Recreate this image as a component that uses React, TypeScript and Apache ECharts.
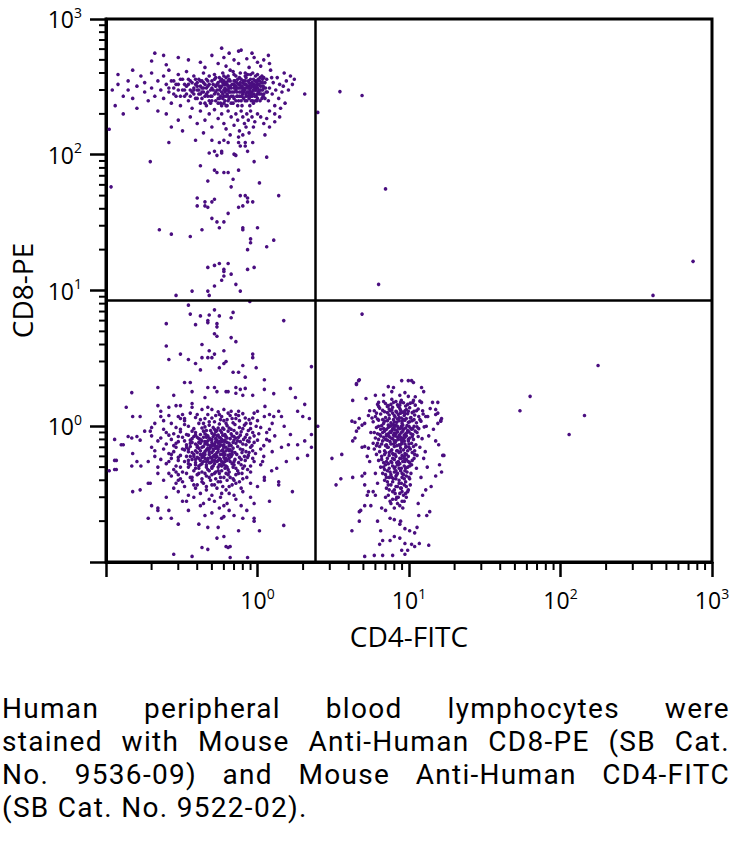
import React, { useEffect, useRef } from "react";
import * as echarts from "echarts";

// ---- axes ----
const X_MIN = 0.1;
const X_MAX = 1000;
const Y_MIN = 0.1;
const Y_MAX = 1000;
const X_NAME = "CD4-FITC";
const Y_NAME = "CD8-PE";
const QUAD_X = 2.4;
const QUAD_Y = 8.5;
const minorTickValues = [
  0.2, 0.3, 0.4, 0.5, 0.6, 0.7, 0.8, 0.9,
  2, 3, 4, 5, 6, 7, 8, 9,
  20, 30, 40, 50, 60, 70, 80, 90,
  200, 300, 400, 500, 600, 700, 800, 900,
];

const captionLines = [
  "Human peripheral blood lymphocytes were",
  "stained with Mouse Anti-Human CD8-PE (SB Cat.",
  "No. 9536-09) and Mouse Anti-Human CD4-FITC",
  "(SB Cat. No. 9522-02).",
];

// ---- events [CD4, CD8] ----
const ulCore: number[][] = [
  [0.5,310],[0.55,280],[0.6,350],[0.62,300],[0.65,260],[0.68,330],[0.7,290],[0.72,380],[0.75,310],[0.78,270],[0.8,340],[0.82,300],[0.85,250],[0.88,320],[0.9,360],[0.92,290],[0.95,330],[0.98,270],[1.0,310],[1.05,300],[1.1,280],[1.12,340],
  [0.52,360],[0.57,240],[0.59,400],[0.63,330],[0.66,290],[0.69,240],[0.71,350],[0.74,270],[0.77,400],[0.79,320],[0.81,260],[0.84,370],[0.86,290],[0.89,230],[0.91,330],[0.94,300],[0.97,380],[0.99,250],[1.03,350],[1.07,260],[1.09,320],
  [0.49,270],[0.54,330],[0.58,290],[0.61,250],[0.64,380],[0.67,310],[0.7,260],[0.73,340],[0.76,290],[0.79,230],[0.83,310],[0.87,350],[0.9,270],[0.93,400],[0.96,310],[1.0,280],[1.04,370],[1.08,300],[1.14,290],
  [0.51,300],[0.56,370],[0.6,270],[0.63,230],[0.66,350],[0.69,410],[0.72,300],[0.75,250],[0.78,360],[0.81,290],[0.84,330],[0.87,270],[0.9,310],[0.93,250],[0.96,350],[1.0,330],[1.02,290],[1.06,340],[1.1,310],
  [0.53,250],[0.57,310],[0.61,330],[0.64,270],[0.68,290],[0.71,320],[0.74,360],[0.77,310],[0.8,280],[0.83,250],[0.86,390],[0.89,300],[0.92,340],[0.95,280],[0.98,300],[1.01,360],[1.05,320],[1.09,270],
  [0.55,340],[0.59,260],[0.62,370],[0.65,310],[0.69,270],[0.72,250],[0.75,330],[0.78,290],[0.81,350],[0.85,310],[0.88,280],[0.91,250],[0.94,360],[0.97,320],[1.0,260],[1.03,300],[1.07,380],[1.12,260],
  [0.58,230],[0.6,300],[0.64,320],[0.67,240],[0.7,330],[0.73,290],[0.76,370],[0.79,270],[0.82,330],[0.85,290],[0.88,340],[0.92,270],[0.95,310],[0.98,350],[1.01,290],[1.04,250],[1.08,340],
  [0.66,420],[0.74,230],[0.8,310],[0.83,380],[0.86,320],[0.9,290],[0.93,320],[0.96,270],[0.99,320],[0.76,330],[0.7,310],[0.88,260],[0.94,240],[0.97,300],[1.02,330],[0.84,280],[0.78,320],[0.73,270],
  [0.47,320],[0.5,350],[0.53,290],[0.56,320],[0.6,330],[0.63,280],[0.66,320],[0.7,350],[0.73,310],[0.76,270],[0.8,300],[0.83,350],[0.87,310],[0.91,280],[0.95,300],[0.99,340],[1.03,280],[1.08,360],[1.13,310],
  [0.49,240],[0.55,260],[0.61,290],[0.67,270],[0.72,320],[0.78,250],[0.84,270],[0.9,330],[0.97,250],[1.06,280],
  [0.52,390],[0.58,360],[0.64,350],[0.7,390],[0.77,340],[0.83,400],[0.9,390],[1.0,390],[1.1,370],
  [0.26,310],[0.27,350],[0.28,280],[0.29,330],[0.3,300],[0.31,360],[0.31,270],[0.33,330],[0.33,300],[0.34,280],[0.35,360],[0.36,270],[0.37,340],[0.38,300],[0.39,260],[0.39,360],[0.4,320],[0.41,280],[0.42,350],[0.43,310],[0.43,260],[0.44,290],[0.45,330],[0.45,240],[0.46,280],[0.47,270],[0.48,330],[0.48,250],[0.49,300],[0.5,270],
  [0.35,330],[0.38,310],[0.4,340],[0.42,280],[0.44,310],[0.46,360],[0.41,300],[0.37,290],[0.43,350],
  [0.5,250],[0.51,330],[0.52,280],[0.53,370],[0.54,300],[0.55,240],[0.56,300],[0.57,350],[0.57,270],[0.58,320],[0.59,280],[0.6,240],[0.6,380],[0.61,310],[0.62,270],[0.62,340],[0.63,300],[0.64,250],[0.65,290],[0.65,360],[0.53,320],[0.56,260],[0.59,340],[0.62,230],[0.64,300],
];

const ulPeriph: number[][] = [
  [0.11,300],[0.115,230],[0.12,330],[0.12,390],[0.13,270],[0.13,200],[0.14,350],[0.14,300],[0.15,420],[0.15,260],[0.16,320],[0.16,220],[0.17,380],[0.18,290],[0.18,340],[0.19,250],[0.2,310],[0.2,400],[0.21,270],[0.22,350],[0.22,210],[0.23,300],[0.24,380],[0.24,260],[0.25,330],[0.26,290],[0.26,420],[0.27,240],[0.28,350],[0.28,310],[0.29,270],[0.3,390],[0.3,330],[0.31,230],[0.32,300],[0.32,360],[0.33,270],[0.34,410],[0.34,320],[0.35,250],[0.36,300],[0.36,350],[0.37,220],[0.38,380],[0.38,280],[0.39,330],[0.4,260],[0.4,300],[0.41,360],[0.42,240],[0.42,320],[0.43,290],[0.44,400],[0.44,340],[0.45,270],[0.46,310],[0.46,230],[0.47,350],[0.47,290],[0.48,380],
  [0.21,560],[0.24,540],[0.75,580],[1.18,540],[0.2,490],[0.25,460],[0.3,520],[0.35,500],[0.42,480],[0.5,540],[0.55,470],[0.6,520],[0.65,560],[0.7,500],[0.78,590],[0.75,470],[0.85,510],[0.92,560],[1.0,480],[1.1,500],[1.2,470],[0.45,440],[0.62,450],[0.88,440],[1.05,450],[0.95,520],[0.58,610],
  [1.15,360],[1.18,250],[1.2,310],[1.22,420],[1.25,280],[1.27,340],[1.3,230],[1.32,300],[1.35,370],[1.38,260],[1.4,330],[1.45,290],[1.5,400],[1.52,240],[1.55,350],[1.6,300],[1.65,380],[1.7,330],[1.75,360],[1.2,210],[1.3,200],[1.16,290],[1.24,370],[1.42,220],[1.48,320],
  [0.36,190],[0.4,170],[0.42,210],[0.45,180],[0.48,200],[0.5,160],[0.52,215],[0.55,185],[0.58,200],[0.6,170],[0.62,155],[0.64,210],[0.67,190],[0.7,165],[0.72,200],[0.74,180],[0.76,150],[0.78,210],[0.8,190],[0.82,170],[0.84,160],[0.85,200],[0.87,180],[0.88,145],[0.9,210],[0.92,190],[0.94,160],[0.96,175],[1.0,200],[1.05,190],[1.1,170],[1.15,185],[1.2,160],[1.3,175],[1.4,190],[0.75,135],[0.8,140],[0.66,140],[1.12,140],[0.3,180],[0.25,200],[0.32,150],[0.44,145],[0.27,160],
];

const ulTail: number[][] = [
  [0.26,123],[0.196,89],[0.108,58],[0.42,83],[0.52,77],[0.54,74],[0.6,74],[0.64,74],[0.75,77],[0.69,66],[0.47,64],[0.67,58],[1.03,62],[1.15,96],[0.95,89],[1.38,50],[0.77,50],[0.83,50],[0.86,48],[0.93,45],[0.86,45],[0.8,42],[0.75,41],[0.64,37],[0.4,48],[0.45,45],[0.5,45],[0.52,47],[0.4,42],[0.45,42],[0.47,41],[0.5,34],[0.54,32],[0.56,29],[0.6,32],[0.225,28],[0.27,26],[0.36,25],[0.43,28],[0.8,29],[0.8,28],[1.0,29],[0.9,24],[0.9,22.5],[0.86,20],[1.15,21],[1.28,23.5],[0.47,14.8],[0.52,15.3],[0.56,15.8],[0.64,15.8],[0.6,14.3],[0.6,13.8],[0.67,13.2],[0.6,12.8],[0.58,11.9],[0.52,10.8],[0.72,11.1],[0.86,14.3],[0.95,14.8],[0.77,9.9],[0.37,9.9],[0.47,9.9],[0.48,9.2],[0.29,9.2],
  [0.39,128],[0.5,128],[0.56,123],[0.6,128],[0.64,123],[0.75,123],[0.83,123],[0.93,123],[0.77,116],[0.83,116],[0.48,103],[0.52,106],[0.54,99],[0.58,106],[0.58,103],[0.86,106],[0.7,101],[0.72,99],[0.71,100],[0.105,154],
];

const llCore: number[][] = [
  [0.3,1.18],[0.36,1.25],[0.42,1.12],[0.47,1.22],[0.5,1.15],[0.55,1.28],[0.6,1.1],[0.66,1.2],[0.72,1.14],[0.8,1.24],[0.88,1.12],
  [0.29,0.98],[0.33,1.03],[0.38,0.96],[0.41,1.05],[0.45,0.99],[0.48,1.02],[0.52,0.95],[0.56,1.04],[0.59,0.97],[0.63,1.01],[0.67,0.95],[0.71,1.03],[0.76,0.98],[0.82,1.02],[0.9,0.96],[0.98,1.0],
  [0.28,0.88],[0.31,0.91],[0.35,0.86],[0.39,0.9],[0.42,0.87],[0.44,0.92],[0.47,0.85],[0.5,0.89],[0.53,0.91],[0.55,0.86],[0.58,0.9],[0.61,0.87],[0.64,0.92],[0.68,0.85],[0.73,0.89],[0.78,0.91],[0.85,0.87],[0.93,0.9],
  [0.27,0.8],[0.32,0.83],[0.36,0.79],[0.38,0.84],[0.41,0.81],[0.43,0.78],[0.46,0.83],[0.49,0.8],[0.51,0.84],[0.54,0.79],[0.57,0.82],[0.6,0.78],[0.62,0.84],[0.66,0.81],[0.7,0.79],[0.75,0.83],[0.81,0.8],[0.89,0.82],[1.0,0.79],
  [0.25,0.74],[0.3,0.77],[0.34,0.73],[0.37,0.76],[0.4,0.72],[0.42,0.75],[0.45,0.77],[0.47,0.73],[0.5,0.76],[0.52,0.72],[0.55,0.75],[0.58,0.77],[0.6,0.73],[0.63,0.76],[0.67,0.72],[0.72,0.75],[0.77,0.77],[0.84,0.73],[0.95,0.76],
  [0.24,0.68],[0.29,0.7],[0.33,0.67],[0.36,0.71],[0.39,0.66],[0.41,0.69],[0.44,0.71],[0.46,0.67],[0.49,0.7],[0.51,0.66],[0.53,0.69],[0.56,0.71],[0.59,0.67],[0.62,0.7],[0.65,0.66],[0.69,0.69],[0.74,0.71],[0.8,0.67],[0.9,0.7],[1.05,0.68],
  [0.26,0.63],[0.31,0.61],[0.35,0.65],[0.38,0.62],[0.4,0.64],[0.43,0.61],[0.45,0.65],[0.48,0.62],[0.5,0.64],[0.52,0.61],[0.55,0.65],[0.57,0.62],[0.6,0.64],[0.64,0.61],[0.68,0.65],[0.73,0.62],[0.79,0.64],[0.87,0.61],[0.97,0.63],
  [0.27,0.58],[0.3,0.56],[0.34,0.6],[0.37,0.57],[0.4,0.59],[0.42,0.56],[0.44,0.6],[0.47,0.57],[0.49,0.59],[0.52,0.56],[0.54,0.6],[0.57,0.57],[0.6,0.59],[0.63,0.56],[0.67,0.6],[0.71,0.57],[0.76,0.59],[0.83,0.56],[0.93,0.58],
  [0.25,0.53],[0.29,0.51],[0.33,0.55],[0.36,0.52],[0.39,0.54],[0.41,0.51],[0.44,0.55],[0.46,0.52],[0.49,0.54],[0.51,0.51],[0.54,0.55],[0.56,0.52],[0.59,0.54],[0.62,0.51],[0.66,0.55],[0.7,0.52],[0.75,0.54],[0.82,0.51],
  [0.28,0.48],[0.32,0.46],[0.35,0.5],[0.38,0.47],[0.41,0.49],[0.43,0.46],[0.46,0.5],[0.48,0.47],[0.5,0.49],[0.53,0.46],[0.55,0.5],[0.58,0.47],[0.61,0.49],[0.65,0.46],[0.69,0.5],[0.74,0.47],[0.8,0.49],[0.9,0.46],
  [0.27,0.43],[0.31,0.41],[0.34,0.45],[0.37,0.42],[0.4,0.44],[0.43,0.41],[0.45,0.45],[0.48,0.42],[0.5,0.44],[0.53,0.41],[0.56,0.45],[0.6,0.42],[0.64,0.44],[0.69,0.41],[0.75,0.45],[0.85,0.42],
  [0.29,0.38],[0.33,0.36],[0.37,0.4],[0.4,0.37],[0.43,0.39],[0.46,0.36],[0.49,0.4],[0.52,0.37],[0.55,0.39],[0.59,0.36],[0.63,0.4],[0.68,0.37],[0.76,0.39],
  [0.3,0.33],[0.35,0.31],[0.39,0.35],[0.42,0.32],[0.46,0.34],[0.5,0.31],[0.54,0.35],[0.58,0.32],[0.62,0.34],[0.7,0.31],[0.8,0.33],
  [0.32,0.28],[0.38,0.3],[0.44,0.27],[0.48,0.29],[0.52,0.28],[0.57,0.3],[0.63,0.27],[0.72,0.29],
  [0.35,0.24],[0.42,0.26],[0.5,0.23],[0.56,0.25],[0.65,0.24],[0.78,0.26],
  [0.42,0.8],[0.45,0.74],[0.48,0.68],[0.5,0.8],[0.52,0.74],[0.55,0.68],[0.58,0.8],[0.6,0.7],[0.44,0.63],[0.47,0.58],[0.5,0.55],[0.53,0.62],[0.56,0.58],[0.59,0.62],[0.62,0.58],[0.46,0.86],[0.49,0.93],[0.54,0.85],[0.57,0.93],[0.61,0.85],[0.4,0.7],[0.38,0.6],[0.36,0.75],[0.65,0.75],[0.68,0.62],[0.7,0.84],[0.43,0.53],[0.5,0.5],[0.57,0.52],[0.63,0.5],[0.39,0.86],[0.47,0.78],[0.54,0.71],[0.61,0.77],[0.64,0.68],[0.41,0.58],[0.35,0.68],[0.55,0.97],[0.48,1.08],[0.62,1.05],
  [0.33,1.1],[0.39,1.16],[0.44,1.05],[0.52,1.08],[0.58,1.18],[0.63,1.12],[0.69,1.06],[0.76,1.1],[0.84,1.05],[0.93,1.15],
  [0.31,0.95],[0.37,0.92],[0.43,0.97],[0.46,0.93],[0.51,0.98],[0.54,0.93],[0.6,0.95],[0.65,0.97],[0.7,0.93],[0.8,0.96],[0.87,0.93],
  [0.3,0.84],[0.34,0.87],[0.4,0.83],[0.45,0.88],[0.48,0.82],[0.52,0.87],[0.56,0.83],[0.59,0.86],[0.63,0.82],[0.67,0.88],[0.72,0.82],[0.77,0.86],[0.83,0.83],[0.95,0.85],
  [0.29,0.75],[0.33,0.78],[0.39,0.74],[0.43,0.7],[0.46,0.76],[0.49,0.72],[0.53,0.77],[0.57,0.73],[0.61,0.79],[0.65,0.72],[0.69,0.76],[0.74,0.78],[0.8,0.74],[0.88,0.77],
  [0.28,0.65],[0.32,0.68],[0.37,0.64],[0.42,0.66],[0.45,0.62],[0.48,0.65],[0.51,0.68],[0.54,0.64],[0.58,0.66],[0.61,0.62],[0.66,0.67],[0.71,0.64],[0.77,0.68],[0.84,0.65],[0.93,0.66],
  [0.3,0.59],[0.35,0.56],[0.39,0.57],[0.43,0.59],[0.46,0.55],[0.5,0.58],[0.53,0.59],[0.58,0.55],[0.61,0.57],[0.65,0.58],[0.7,0.55],[0.78,0.57],[0.86,0.59],
  [0.31,0.5],[0.35,0.53],[0.39,0.49],[0.42,0.52],[0.47,0.48],[0.52,0.53],[0.55,0.47],[0.6,0.52],[0.64,0.48],[0.68,0.53],[0.72,0.49],[0.78,0.52],[0.86,0.48],
  [0.3,0.44],[0.36,0.42],[0.41,0.45],[0.46,0.43],[0.52,0.45],[0.57,0.42],[0.62,0.45],[0.66,0.42],[0.72,0.44],[0.8,0.41],
  [0.32,0.39],[0.38,0.37],[0.44,0.38],[0.5,0.37],[0.57,0.39],[0.65,0.36],[0.72,0.38],
  [0.27,1.05],[0.31,1.14],[0.35,1.0],[0.4,1.22],[0.45,1.14],[0.53,1.2],[0.57,1.12],[0.64,1.25],[0.68,1.14],[0.75,1.2],[0.83,1.15],[0.9,1.05],
  [0.26,0.86],[0.28,0.72],[0.27,0.62],[0.26,0.55],[0.29,0.46],[0.3,0.4],[0.86,0.78],[0.92,0.72],[0.88,0.64],[0.82,0.6],[0.95,0.55],[0.9,0.51],[0.79,0.45],[0.7,0.4],[0.78,0.35],[0.65,0.32],
  [0.37,0.81],[0.41,0.76],[0.44,0.83],[0.47,0.69],[0.5,0.72],[0.53,0.81],[0.56,0.77],[0.59,0.72],[0.62,0.66],[0.66,0.62],[0.42,0.62],[0.45,0.58],[0.48,0.54],[0.51,0.6],[0.55,0.56],[0.58,0.51],[0.61,0.55],[0.39,0.52],[0.36,0.6],[0.34,0.7],
];

const llPeriph: number[][] = [
  [0.35,7.8],[0.89,8.3],[0.36,6.7],[0.42,6.5],[0.48,6.6],[0.52,7.2],[0.56,6.5],[0.69,6.9],[0.67,6.3],[0.47,6.0],[0.47,5.8],[0.54,5.7],[0.54,5.4],[0.39,5.6],[0.25,5.7],[1.49,6.0],
  [0.52,4.8],[0.54,4.6],[0.67,4.5],[0.72,4.2],[0.43,4.0],[0.25,3.9],[0.48,3.6],[0.52,3.4],[0.6,3.6],[0.26,3.1],[0.31,3.4],[0.35,3.1],[0.39,2.9],[0.43,3.2],[0.47,3.2],[0.5,3.2],[0.62,3.0],[0.6,2.9],[0.93,3.4],[0.93,3.2],[0.75,2.5],[0.69,2.5],[0.8,2.8],[0.56,2.7],[0.42,2.6],[0.83,2.3],[0.98,2.7],[2.27,2.75],[1.11,2.2],
  [0.22,1.93],[0.33,2.1],[0.36,2.1],[0.37,1.8],[0.47,1.93],[0.52,1.93],[0.45,1.63],[0.54,1.8],[0.62,1.8],[0.64,1.8],[0.72,1.93],[0.77,1.87],[0.83,1.9],[0.93,1.69],[0.72,1.75],[0.8,1.69],[1.11,1.87],[1.28,1.74],[1.65,1.9],[1.78,1.63],[2.05,1.45],
  [0.148,1.77],[0.136,1.38],[0.15,1.18],[0.168,1.18],[0.22,1.42],[0.28,1.69],[0.29,1.42],[0.31,1.42],[0.23,1.29],[0.23,1.18],[0.26,1.38],[0.32,1.22],[0.33,1.14],[0.37,1.47],[0.37,1.38],[0.43,1.33],[0.47,1.38],[0.5,1.33],[0.56,1.22],[0.6,1.33],[0.67,1.29],[0.72,1.22],[0.75,1.29],[1.0,1.29],[1.11,1.18],[1.2,1.22],[1.28,1.18],[1.38,1.29],[1.44,1.18],[1.84,1.29],[1.99,1.18],[2.2,1.14],[2.5,1.0],
  [0.114,0.8],[0.126,0.73],[0.13,0.73],[0.105,0.47],[0.114,0.48],[0.117,0.48],[0.114,0.56],[0.117,0.56],[0.148,0.82],[0.14,0.84],[0.15,0.63],[0.148,0.51],[0.16,0.84],[0.168,0.79],[0.18,0.92],[0.196,0.92],[0.16,0.55],[0.17,0.51],[0.15,0.33],[0.168,0.34],[0.19,0.38],[0.196,0.38],[0.2,0.26],[0.22,0.25],[0.19,0.21],[0.23,0.21],[0.27,0.21],[0.22,0.24],[0.26,0.24],[0.3,0.19],
  [0.28,0.114],[0.37,0.11],[0.43,0.128],[0.47,0.124],[0.54,0.15],[0.6,0.154],[0.62,0.13],[0.64,0.128],[0.66,0.13],[0.66,0.108],[0.86,0.108],[0.47,0.18],[0.58,0.21],[0.6,0.216],[0.8,0.21],[0.95,0.21],[0.95,0.2],[1.03,0.17],[1.49,0.186],[1.2,0.28],[1.7,0.33],
  [1.84,0.58],[2.14,0.61],[2.27,0.7],[2.27,0.87],[1.65,0.87],[1.6,0.73],[1.84,0.73],[2.05,0.78],[1.44,0.7],[1.34,0.49],[1.24,0.47],[1.11,0.4],[1.11,0.42],[1.38,0.39],[1.38,0.37],
  [0.2,0.7],[0.21,0.6],[0.22,0.45],[0.23,0.82],[0.2,0.98],[0.19,0.55],[0.21,1.05],[0.24,0.4],[1.1,0.6],[1.15,0.8],[1.2,0.95],[1.25,0.65],[1.05,0.52],[1.3,0.85],[1.5,1.0],[1.55,0.55],[0.9,0.3],[1.0,0.36],[0.85,0.24],[0.25,0.3],
  [0.22,0.78],[0.21,0.66],[0.23,0.57],[0.24,0.95],[0.2,0.85],[0.22,0.5],[0.24,1.1],[0.26,1.2],[0.26,0.45],[0.25,0.9],
  [1.1,0.72],[1.15,0.9],[1.08,0.55],[1.2,0.78],[1.02,0.88],[1.0,1.1],[1.05,0.98],[0.95,1.25],[1.25,1.05],[1.12,1.4],
  [0.28,0.35],[0.34,0.28],[0.45,0.22],[0.6,0.26],[0.7,0.22],[0.9,0.38],[0.95,0.27],[0.41,0.19],[0.55,0.18],[0.75,0.17],
];

const lrCore: number[][] = [
  [6.2,1.45],[6.8,1.52],[7.3,1.42],[7.9,1.5],[8.4,1.44],[8.9,1.55],[9.5,1.41],[10.2,1.48],[11,1.43],[11.8,1.53],
  [5.9,1.3],[6.4,1.36],[6.9,1.28],[7.4,1.34],[7.8,1.38],[8.2,1.29],[8.7,1.35],[9.1,1.27],[9.6,1.33],[10.1,1.37],[10.8,1.29],[11.5,1.34],[12.3,1.3],
  [6.0,1.18],[6.5,1.23],[7.0,1.16],[7.4,1.21],[7.8,1.25],[8.1,1.17],[8.5,1.22],[8.9,1.15],[9.3,1.2],[9.8,1.24],[10.3,1.16],[10.9,1.21],[11.6,1.18],[12.4,1.23],
  [5.8,1.08],[6.3,1.11],[6.8,1.05],[7.2,1.1],[7.6,1.06],[7.9,1.12],[8.3,1.07],[8.6,1.1],[9.0,1.05],[9.4,1.11],[9.9,1.07],[10.5,1.1],[11.2,1.06],[12.0,1.09],
  [6.1,0.98],[6.6,1.01],[7.1,0.95],[7.5,1.0],[7.8,0.96],[8.2,1.02],[8.5,0.97],[8.9,1.0],[9.2,0.95],[9.7,1.01],[10.2,0.97],[10.8,1.0],[11.6,0.96],[12.6,0.99],
  [5.9,0.9],[6.4,0.87],[6.9,0.92],[7.3,0.88],[7.7,0.93],[8.0,0.89],[8.4,0.91],[8.7,0.87],[9.1,0.92],[9.5,0.88],[10.0,0.91],[10.6,0.87],[11.3,0.9],
  [6.0,0.82],[6.5,0.85],[7.0,0.8],[7.4,0.84],[7.8,0.81],[8.1,0.85],[8.5,0.8],[8.8,0.83],[9.2,0.81],[9.6,0.85],[10.1,0.82],[10.7,0.8],[11.5,0.84],[12.2,0.81],
  [6.2,0.75],[6.7,0.78],[7.1,0.73],[7.5,0.77],[7.9,0.74],[8.2,0.78],[8.6,0.73],[9.0,0.76],[9.4,0.74],[9.9,0.78],[10.4,0.75],[11.1,0.73],
  [5.9,0.68],[6.4,0.71],[6.9,0.66],[7.3,0.7],[7.7,0.67],[8.0,0.71],[8.4,0.66],[8.8,0.69],[9.2,0.67],[9.6,0.71],[10.2,0.68],[10.9,0.66],[11.8,0.7],
  [6.1,0.62],[6.6,0.6],[7.0,0.64],[7.4,0.61],[7.8,0.63],[8.2,0.6],[8.6,0.64],[9.0,0.61],[9.4,0.63],[9.9,0.6],[10.5,0.64],[11.3,0.61],
  [6.3,0.56],[6.8,0.54],[7.2,0.58],[7.6,0.55],[8.0,0.57],[8.3,0.54],[8.7,0.58],[9.1,0.55],[9.6,0.57],[10.1,0.54],[10.8,0.58],
  [6.5,0.5],[7.0,0.52],[7.4,0.49],[7.8,0.51],[8.1,0.5],[8.5,0.52],[8.9,0.49],[9.3,0.51],[9.8,0.5],[10.4,0.52],[11.2,0.49],
  [6.7,0.45],[7.2,0.47],[7.6,0.44],[8.0,0.46],[8.4,0.45],[8.8,0.47],[9.2,0.44],[9.7,0.46],[10.3,0.45],
  [6.9,0.4],[7.4,0.42],[7.8,0.39],[8.2,0.41],[8.6,0.4],[9.0,0.42],[9.5,0.39],[10.1,0.41],
  [7.1,0.35],[7.6,0.37],[8.0,0.34],[8.4,0.36],[8.8,0.35],[9.3,0.37],[9.9,0.34],
  [7.3,0.31],[7.8,0.33],[8.3,0.3],[8.7,0.32],[9.2,0.31],[9.8,0.33],
  [7.6,0.27],[8.2,0.29],[8.7,0.26],[9.3,0.28],
  [7.5,1.3],[8.0,1.2],[8.4,1.0],[8.8,1.25],[9.2,1.12],[7.6,0.9],[8.2,0.88],[8.6,0.85],[9.0,0.97],[9.4,1.3],[7.2,1.4],[8.5,1.4],[7.9,1.03],[8.1,0.76],[8.7,0.72],[9.1,0.82],[7.4,0.64],[8.3,0.66],[8.9,0.58],[7.7,0.54],[8.4,0.52],[9.4,0.55],[7.0,0.72],[9.7,0.9],[10.2,1.15],[6.7,1.12],[7.3,1.02],[8.0,0.95],[8.6,1.16],[9.3,0.78],[10.0,0.7],[8.2,0.43],[8.9,0.38],[7.9,0.62],[9.6,0.62],[7.1,0.85],[10.4,0.95],[6.5,0.95],[8.8,1.5],[7.7,1.58],
  [6.3,1.4],[7.0,1.47],[7.6,1.45],[8.2,1.52],[8.7,1.43],[9.2,1.49],[9.8,1.45],[10.6,1.5],
  [6.1,1.25],[6.7,1.31],[7.2,1.26],[7.7,1.32],[8.3,1.27],[8.8,1.31],[9.4,1.24],[9.9,1.29],[10.5,1.26],[11.2,1.3],
  [6.2,1.13],[6.9,1.09],[7.4,1.14],[8.0,1.08],[8.4,1.13],[9.0,1.09],[9.6,1.14],[10.1,1.08],[10.8,1.12],[11.8,1.12],
  [6.3,1.0],[6.8,0.96],[7.3,0.98],[7.7,1.02],[8.0,0.99],[8.7,0.96],[9.1,1.02],[9.5,0.97],[10.0,1.0],[10.6,0.96],[11.3,0.99],
  [6.2,0.88],[6.7,0.9],[7.1,0.87],[7.5,0.91],[7.9,0.86],[8.3,0.93],[8.9,0.9],[9.3,0.86],[9.8,0.93],[10.3,0.88],[11.0,0.92],
  [6.3,0.8],[6.8,0.83],[7.2,0.79],[7.6,0.82],[8.0,0.78],[8.4,0.83],[8.9,0.79],[9.4,0.83],[9.9,0.8],[10.5,0.84],
  [6.1,0.72],[6.6,0.74],[7.2,0.7],[7.6,0.74],[8.3,0.72],[8.9,0.74],[9.5,0.7],[10.0,0.74],[10.7,0.71],
  [6.4,0.65],[6.9,0.62],[7.6,0.66],[8.1,0.62],[8.8,0.65],[9.3,0.6],[9.8,0.66],[10.9,0.62],
  [6.6,0.57],[7.1,0.55],[7.8,0.58],[8.5,0.55],[9.3,0.58],[9.9,0.55],[10.5,0.56],
  [6.8,0.5],[7.3,0.53],[8.0,0.49],[8.7,0.53],[9.5,0.49],[10.1,0.51],
  [7.0,0.44],[7.5,0.46],[8.2,0.47],[9.0,0.45],[9.6,0.43],
  [7.2,0.39],[7.9,0.41],[8.6,0.38],[9.3,0.41],
  [7.4,0.34],[8.2,0.36],[9.0,0.33],[9.6,0.36],
  [7.8,0.29],[8.5,0.3],[9.0,0.28],[8.0,0.25],[9.6,0.3],[7.0,0.3],
  [6.9,0.48],[7.7,0.42],[8.3,0.44],[9.4,0.47],[10.0,0.42],[7.3,0.37],[8.1,0.32],[8.9,0.35],[9.5,0.32],[10.2,0.37],[7.5,0.28],[8.4,0.27],[9.1,0.25],[7.1,0.42],[8.6,0.49],
];

const lrPeriph: number[][] = [
  [4.65,2.17],[4.5,2.03],[4.25,1.55],[8.95,2.17],[9.9,2.17],[10.4,2.17],[10.7,2.1],[12.1,1.93],[12.5,1.8],[7.3,1.96],[7.9,1.93],[7.7,1.8],[8.7,1.69],[9.4,1.77],[9.9,1.66],[10.7,1.55],[12.1,1.5],[6.0,1.69],[6.3,1.5],[14.3,1.5],[15.5,1.5],[15,1.33],[15.5,1.25],[16.2,1.1],[12.9,1.18],[13.3,1.18],
  [4.2,1.09],[4.4,1.07],[4.7,1.14],[4.9,1.02],[5.1,1.05],[4.5,0.92],[4.65,0.97],[4.4,0.82],[4.25,0.78],[4.9,0.7],[5.1,0.71],[5.4,0.69],[5.3,0.6],[3.6,0.62],[3.55,0.41],[4.25,0.42],[4.9,0.43],[5.1,0.45],[5.1,0.37],[5.4,0.33],[5.3,0.31],[5.8,0.33],[6.0,0.31],[5.1,0.26],[5.6,0.26],[6.6,0.25],[7.0,0.24],[4.7,0.235],[4.7,0.2],[4.2,0.17],[6.2,0.2],[6.5,0.17],
  [7.5,0.21],[8.0,0.205],[8.8,0.2],[8.7,0.19],[9.4,0.176],[10.1,0.17],[10.9,0.164],[11.3,0.18],[11.6,0.22],[13.1,0.22],[13.7,0.235],[6.7,0.144],[7.5,0.144],[6.4,0.135],[8.0,0.154],[8.7,0.15],[9.4,0.137],[10.4,0.135],[10.9,0.13],[11.7,0.137],[13.5,0.133],[8.95,0.122],[9.8,0.122],[9.4,0.114],[6.7,0.112],[7.8,0.112],[5.1,0.11],[5.9,0.112],
  [12.9,0.34],[14,0.36],[12.3,0.31],[15,0.43],[16.4,0.46],[15.9,0.52],[17,0.61],[15.7,0.73],[15,0.78],[16.4,1.14],[15.5,1.05],[16.7,0.61],[4.5,2.06],[4.7,2.2],[3.1,0.58],[3.3,0.37],[4.8,0.24],[16.2,1.09],[15,1.22],
  [5.5,1.3],[5.6,0.9],[5.5,0.55],[5.7,1.15],[13.0,1.0],[13.5,0.85],[12.8,0.65],[13.2,0.5],[12.0,0.42],[11.5,0.27],[6.2,0.38],[6.0,0.45],[5.8,0.75],[5.4,1.2],[13.8,1.35],[11.0,1.65],[6.8,1.7],[5.2,1.6],[14.5,0.95],[12.5,0.58],
];

const outliers: number[][] = [
  [2.05,280],[3.5,292],[4.9,273],[2.5,205],[7.0,56],[6.3,11.1],[750,16.4],[408,9.2],[4.9,6.7],[177,2.8],[63,1.66],[54,1.3],[144,1.2],[114,0.87],
];

const events = [...ulCore, ...ulPeriph, ...ulTail, ...llCore, ...llPeriph, ...lrCore, ...lrPeriph, ...outliers];

const FONT = "'Open Sans', 'Noto Sans', sans-serif";
const CAPTION_FONT = "Roboto, 'Open Sans', sans-serif";
const CHART_H = 665;

function decadeLabel(v: number) {
  const e = Math.round(Math.log10(v));
  if (e < 0) return "";
  return "{b|10}{s|" + e + "}";
}

const labelRich = {
  b: { fontSize: 23, color: "#000", fontFamily: FONT, lineHeight: 28 },
  s: { fontSize: 14, color: "#000", fontFamily: FONT, verticalAlign: "top", lineHeight: 14 },
};

export default function App() {
  const ref = useRef<HTMLDivElement>(null);
  useEffect(() => {
    if (!ref.current) return;
    const chart = echarts.init(ref.current, null, { renderer: "svg" });
    const tickStyle = { color: "#000", width: 2.5 };
    chart.setOption({
      animation: false,
      backgroundColor: "#fff",
      textStyle: { fontFamily: FONT },
      grid: {
        left: 106, top: 19, right: 27, bottom: CHART_H - 562,
        outerBoundsMode: "none",
        containLabel: false,
        show: true, borderColor: "#000", borderWidth: 3, backgroundColor: "transparent",
      },
      xAxis: {
        type: "log", logBase: 10, min: X_MIN, max: X_MAX,
        name: X_NAME, nameLocation: "middle", nameGap: 60,
        nameTextStyle: { fontSize: 28, color: "#000", fontFamily: FONT },
        axisLine: { show: true, lineStyle: { color: "#000", width: 3 } },
        axisTick: { show: true, length: 15, lineStyle: tickStyle },
        axisLabel: { margin: 24, formatter: decadeLabel, rich: labelRich },
        splitLine: { show: false },
      },
      yAxis: {
        type: "log", logBase: 10, min: Y_MIN, max: Y_MAX,
        name: Y_NAME, nameLocation: "middle", nameGap: 70,
        nameTextStyle: { fontSize: 28, color: "#000", fontFamily: FONT },
        axisLine: { show: true, lineStyle: { color: "#000", width: 3 } },
        axisTick: { show: true, length: 16, lineStyle: tickStyle },
        axisLabel: { margin: 24, formatter: decadeLabel, rich: labelRich },
        splitLine: { show: false },
      },
      series: [
        {
          type: "scatter",
          data: events,
          symbol: "circle",
          symbolSize: 3.6,
          itemStyle: { color: "#4a0e80", opacity: 1 },
          silent: true,
          z: 2,
          markLine: {
            silent: true,
            symbol: ["none", "none"],
            label: { show: false },
            lineStyle: { color: "#000", width: 2.5, type: "solid" },
            z: 5,
            data: [{ xAxis: QUAD_X }, { yAxis: QUAD_Y }],
          },
        },
        {
          type: "custom",
          silent: true,
          clip: false,
          z: 6,
          data: minorTickValues.map((v) => [v, Y_MIN]),
          renderItem: (_p: any, api: any) => {
            const pt = api.coord([api.value(0), api.value(1)]);
            return {
              type: "line",
              shape: { x1: pt[0], y1: pt[1], x2: pt[0], y2: pt[1] + 8 },
              style: { stroke: "#000", lineWidth: 2 },
            };
          },
        },
        {
          type: "custom",
          silent: true,
          clip: false,
          z: 6,
          data: minorTickValues.map((v) => [X_MIN, v]),
          renderItem: (_p: any, api: any) => {
            const pt = api.coord([api.value(0), api.value(1)]);
            return {
              type: "line",
              shape: { x1: pt[0] - 7, y1: pt[1], x2: pt[0], y2: pt[1] },
              style: { stroke: "#000", lineWidth: 2 },
            };
          },
        },
      ],
    });
    return () => chart.dispose();
  }, []);

  return (
    <div style={{ position: "absolute", left: 0, top: 0, width: 739, height: 841, background: "#fff" }}>
      <div ref={ref} style={{ width: 739, height: CHART_H }} />
      <div
        style={{
          position: "absolute", left: 2, top: 692, width: 728,
          fontFamily: CAPTION_FONT, fontSize: 28, lineHeight: "33px", letterSpacing: "1.3px", color: "#000",
        }}
      >
        {captionLines.map((line, i) => (
          <div
            key={i}
            style={{
              height: 33,
              textAlign: i < captionLines.length - 1 ? "justify" : "left",
              textAlignLast: i < captionLines.length - 1 ? "justify" : "left",
            }}
          >
            {line}
          </div>
        ))}
      </div>
    </div>
  );
}
